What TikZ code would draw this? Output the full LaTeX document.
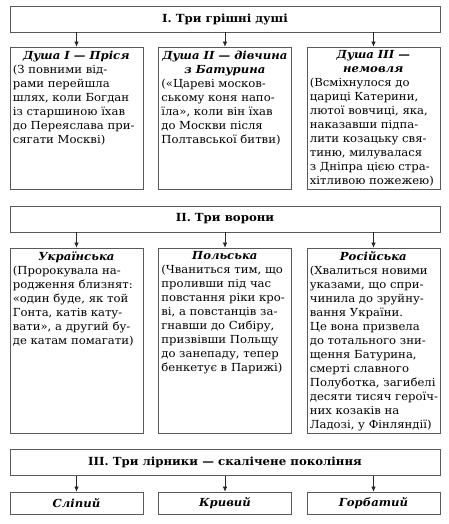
\documentclass[tikz,border=0pt]{standalone}
\usepackage{fontspec}
\setmainfont[FakeStretch=1.05]{DejaVu Serif}
\usetikzlibrary{arrows.meta}
\newcommand\ttlline[1]{\makebox[127pt][c]{\bfseries\itshape #1}}
\begin{document}
\begin{tikzpicture}[x=1pt,y=-1pt,
  boxline/.style={draw=black!65, line width=0.7pt},
  colbox/.style={boxline, minimum width=133pt, inner sep=0pt},
  wide/.style={boxline, minimum width=430pt, minimum height=26pt, inner sep=0pt, font=\bfseries\fontsize{11.2}{13}\selectfont},
  body/.style={anchor=north west, inner sep=0pt, align=left, font=\fontsize{11.1}{14}\selectfont},
  arr/.style={-{Latex[length=5pt,width=4.5pt]}, line width=0.6pt, black!85}]
\useasboundingbox (0,0) rectangle (449,524);

% ---------- Section I ----------
\node[wide] (h1) at (225,19) {I. Три грішні душі};
\node[colbox, minimum height=142pt] (a1) at (76.5,118) {};
\node[colbox, minimum height=142pt] (a2) at (225,118) {};
\node[colbox, minimum height=142pt] (a3) at (373.5,118) {};
\draw[arr] (h1.south -| a1.north) -- (a1.north);
\draw[arr] (h1.south -| a2.north) -- (a2.north);
\draw[arr] (h1.south -| a3.north) -- (a3.north);

\node[body] (a1b) at ([xshift=3pt,yshift=-4pt]a1.north west) {\ttlline{Душа I — Пріся}\\(З повними від-\\рами перейшла\\шлях, коли Богдан\\із старшиною їхав\\до Переяслава при-\\сягати Москві)};

\node[body] (a2b) at ([xshift=3pt,yshift=-4pt]a2.north west) {\ttlline{Душа II — дівчина}\\\ttlline{з Батурина}\\(«Цареві москов-\\ському коня напо-\\їла», коли він їхав\\до Москви після\\Полтавської битви)};

\node[body] (a3b) at ([xshift=3pt,yshift=-4pt]a3.north west) {\ttlline{Душа III —}\\\ttlline{немовля}\\(Всміхнулося до\\цариці Катерини,\\лютої вовчиці, яка,\\наказавши підпа-\\лити козацьку свя-\\тиню, милувалася\\з Дніпра цією стра-\\хітливою пожежею)};

% ---------- Section II ----------
\node[wide] (h2) at (225,219) {II. Три ворони};
\node[colbox, minimum height=185pt] (b1) at (76.5,340.5) {};
\node[colbox, minimum height=185pt] (b2) at (225,340.5) {};
\node[colbox, minimum height=185pt] (b3) at (373.5,340.5) {};
\draw[arr] (h2.south -| b1.north) -- (b1.north);
\draw[arr] (h2.south -| b2.north) -- (b2.north);
\draw[arr] (h2.south -| b3.north) -- (b3.north);

\node[body] (b1b) at ([xshift=3pt,yshift=-4pt]b1.north west) {\ttlline{Українська}\\(Пророкувала на-\\родження близнят:\\«один буде, як той\\Гонта, катів кату-\\вати», а другий бу-\\де катам помагати)};

\node[body] (b2b) at ([xshift=3pt,yshift=-4pt]b2.north west) {\ttlline{Польська}\\(Чваниться тим, що\\проливши під час\\повстання ріки кро-\\ві, а повстанців за-\\гнавши до Сибіру,\\призвівши Польщу\\до занепаду, тепер\\бенкетує в Парижі)};

\node[body] (b3b) at ([xshift=3pt,yshift=-4pt]b3.north west) {\ttlline{Російська}\\(Хвалиться новими\\указами, що спри-\\чинила до зруйну-\\вання України.\\Це вона призвела\\до тотального зни-\\щення Батурина,\\смерті славного\\Полуботка, загибелі\\десяти тисяч героїч-\\них козаків на\\Ладозі, у Фінляндії)};

% ---------- Section III ----------
\node[wide] (h3) at (225,462.5) {III. Три лірники — скалічене покоління};
\node[colbox, minimum height=22pt, font=\bfseries\itshape\fontsize{11.1}{13}\selectfont] (c1) at (76.5,503) {Сліпий};
\node[colbox, minimum height=22pt, font=\bfseries\itshape\fontsize{11.1}{13}\selectfont] (c2) at (225,503) {Кривий};
\node[colbox, minimum height=22pt, font=\bfseries\itshape\fontsize{11.1}{13}\selectfont] (c3) at (373.5,503) {Горбатий};
\draw[arr] (h3.south -| c1.north) -- (c1.north);
\draw[arr] (h3.south -| c2.north) -- (c2.north);
\draw[arr] (h3.south -| c3.north) -- (c3.north);
\end{tikzpicture}
\end{document}
